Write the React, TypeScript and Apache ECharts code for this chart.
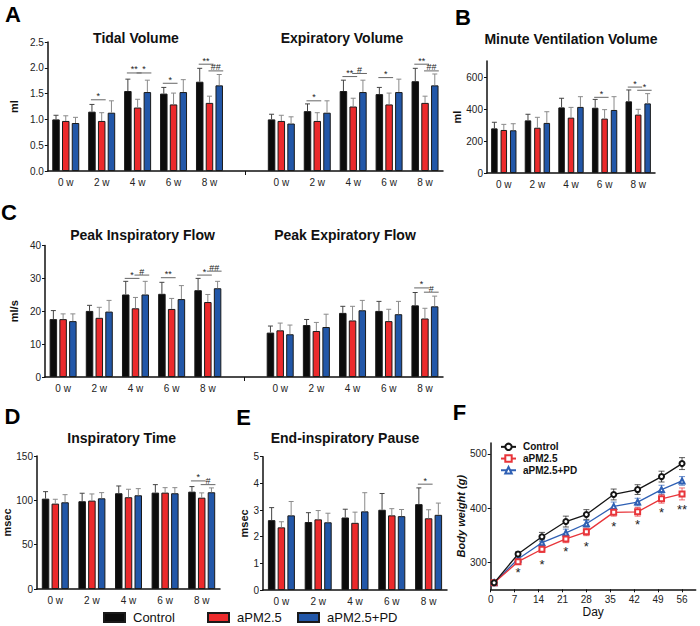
import { useEffect, useRef } from 'react';
import * as echarts from 'echarts';

const FONT = 'Liberation Sans, Arial, Helvetica, sans-serif';

const groupNames = ['Control', 'aPM2.5', 'aPM2.5+PD'];
const weekLabels = ['0 w', '2 w', '4 w', '6 w', '8 w'];

// A. Tidal volume (ml)
const tidalControl = [1.0, 1.15, 1.55, 1.5, 1.73];
const tidalControlSD = [0.08, 0.14, 0.23, 0.12, 0.26];
const tidalPM = [0.97, 0.97, 1.23, 1.29, 1.32];
const tidalPMSD = [0.1, 0.16, 0.16, 0.22, 0.13];
const tidalPD = [0.93, 1.13, 1.53, 1.53, 1.66];
const tidalPDSD = [0.11, 0.23, 0.23, 0.24, 0.21];
// A. Expiratory volume (ml)
const expControl = [1.0, 1.16, 1.55, 1.49, 1.74];
const expControlSD = [0.1, 0.14, 0.21, 0.13, 0.25];
const expPM = [0.97, 0.97, 1.25, 1.29, 1.32];
const expPMSD = [0.11, 0.16, 0.16, 0.22, 0.13];
const expPD = [0.92, 1.13, 1.53, 1.53, 1.66];
const expPDSD = [0.13, 0.23, 0.23, 0.25, 0.22];
// B. Minute ventilation volume (ml)
const mvControl = [279, 329, 410, 408, 448];
const mvControlSD = [38, 38, 57, 52, 71];
const mvPM = [269, 283, 346, 340, 365];
const mvPMSD = [35, 65, 64, 56, 33];
const mvPD = [267, 313, 413, 394, 435];
const mvPDSD = [41, 70, 64, 83, 61];
// C. Peak inspiratory flow (ml/s)
const pifControl = [17.6, 20.1, 25.1, 25.3, 26.4];
const pifControlSD = [2.6, 1.7, 4.0, 3.5, 3.6];
const pifPM = [17.6, 18.0, 20.9, 20.7, 22.8];
const pifPMSD = [1.6, 3.2, 3.3, 3.2, 2.3];
const pifPD = [17.0, 19.9, 25.1, 23.7, 27.0];
const pifPDSD = [2.2, 3.4, 4.0, 4.1, 2.1];
// C. Peak expiratory flow (ml/s)
const pefControl = [13.5, 15.8, 19.5, 20.1, 21.8];
const pefControlSD = [2.0, 1.7, 2.0, 2.9, 3.9];
const pefPM = [14.2, 14.0, 17.2, 17.0, 17.8];
const pefPMSD = [2.2, 2.6, 4.3, 3.6, 3.1];
const pefPD = [13.0, 15.2, 20.3, 19.1, 21.5];
const pefPDSD = [2.8, 3.9, 3.0, 3.9, 3.1];
// D. Inspiratory time (msec)
const itControl = [101.9, 99.0, 108.0, 108.7, 109.8];
const itControlSD = [7.9, 9.0, 8.2, 9.0, 5.7];
const itPM = [96.3, 99.7, 103.5, 108.7, 103.0];
const itPMSD = [4.9, 7.5, 9.0, 5.6, 5.4];
const itPD = [97.8, 102.3, 105.7, 108.0, 109.1];
const itPDSD = [8.6, 6.4, 7.5, 6.3, 4.9];
// E. End-inspiratory pause (msec)
const eipControl = [2.62, 2.55, 2.72, 3.01, 3.22];
const eipControlSD = [0.47, 0.35, 0.31, 0.61, 0.61];
const eipPM = [2.35, 2.65, 2.52, 2.8, 2.69];
const eipPMSD = [0.21, 0.33, 0.4, 0.25, 0.32];
const eipPD = [2.8, 2.54, 2.95, 2.77, 2.82];
const eipPDSD = [0.52, 0.34, 0.7, 0.25, 0.44];

// Significance marks: [week index, bracket value, from group, to group, text]
const tidalSig: any[] = [[1, 1.38, 0, 1, '*'], [2, 1.9, 0, 1, '**'], [2, 1.9, 1, 2, '*'], [3, 1.7, 0, 1, '*'], [4, 2.07, 0, 1, '**'], [4, 1.94, 1, 2, '##']];
const expSig: any[] = [[1, 1.36, 0, 1, '*'], [2, 1.83, 0, 1, '**'], [2, 1.89, 1, 2, '#'], [3, 1.81, 0, 1, '*'], [4, 2.07, 0, 1, '**'], [4, 1.94, 1, 2, '##']];
const mvSig: any[] = [[3, 473, 0, 1, '*'], [4, 537, 0, 1, '*'], [4, 517, 1, 2, '*']];
const pifSig: any[] = [[2, 30.0, 0, 1, '*'], [2, 31.0, 1, 2, '#'], [3, 30.2, 0, 1, '**'], [4, 31.0, 0, 1, '*'], [4, 32.2, 1, 2, '##']];
const pefSig: any[] = [[4, 27.1, 0, 1, '*'], [4, 25.8, 1, 2, '#']];
const itSig: any[] = [[4, 121.9, 0, 1, '*'], [4, 117.7, 1, 2, '#']];
const eipSig: any[] = [[4, 3.97, 0, 1, '*']];

// F. Body weight (g)
const bwDays = [1, 8, 15, 22, 28, 36, 43, 50, 56];
const bwControl = [262, 315, 347, 375, 388, 425, 434, 458, 482];
const bwControlSE = [3, 4, 8, 10, 9, 10, 9, 10, 11];
const bwPM = [262, 301, 324, 343, 356, 392, 393, 417, 426];
const bwPMSE = [3, 5, 6, 7, 7, 7, 8, 8, 11];
const bwPD = [262, 306, 336, 354, 371, 403, 411, 434, 450];
const bwPDSE = [3, 4, 6, 7, 6, 8, 7, 8, 8];
const bwSigDays = [8, 15, 22, 28, 36, 43, 50, 56];
const bwSigY = [281, 296, 320, 329, 365, 370, 391, 398];
const bwSigText = ['*', '*', '*', '*', '*', '*', '*', '**'];
const dayTicks = [0, 7, 14, 21, 28, 35, 42, 49, 56];

const barColors = ['#0c0c0c', '#ec2a2c', '#2257a8'];
const errColors = ['#444444', '#8a8a8a', '#8a8a8a'];
const lineColors = ['#151515', '#e8353a', '#2f60b4'];

const axisLineStyle = { color: '#111', width: 1.5 };

function joinGroups(a: number[], b?: number[]) {
  return b ? [...a, '-', ...b] : a;
}

function barSeries(gi: number, groups: any[][], barWidth: number, barGap: string) {
  return groups.map((data, g) => ({
    type: 'bar',
    name: groupNames[g],
    xAxisIndex: gi,
    yAxisIndex: gi,
    data,
    barWidth,
    barGap,
    silent: true,
    itemStyle: { color: barColors[g], borderColor: '#1a1a1a', borderWidth: 1 },
  }));
}

function errorSeries(gi: number, groups: any[][], sds: any[][], spacing: number) {
  const rows: number[][] = [];
  groups.forEach((arr, g) => {
    arr.forEach((v: any, i: number) => {
      if (typeof v === 'number') rows.push([i, v, v + sds[g][i], g]);
    });
  });
  return {
    type: 'custom',
    xAxisIndex: gi,
    yAxisIndex: gi,
    data: rows,
    encode: { x: 0, y: [1, 2] },
    silent: true,
    z: 3,
    renderItem: (_p: any, api: any) => {
      const cat = api.value(0);
      const g = api.value(3);
      const b = api.coord([cat, api.value(1)]);
      const t = api.coord([cat, api.value(2)]);
      const x = b[0] + (g - 1) * spacing;
      const st = { stroke: errColors[g], lineWidth: 1 };
      return {
        type: 'group',
        children: [
          { type: 'line', shape: { x1: x, y1: b[1], x2: x, y2: t[1] }, style: st },
          { type: 'line', shape: { x1: x - 2.5, y1: t[1], x2: x + 2.5, y2: t[1] }, style: st },
        ],
      };
    },
  };
}

function sigSeries(gi: number, sigs: any[], spacing: number) {
  return {
    type: 'custom',
    xAxisIndex: gi,
    yAxisIndex: gi,
    data: sigs.map((s) => [s[0], s[1]]),
    silent: true,
    z: 4,
    renderItem: (p: any, api: any) => {
      const s = sigs[p.dataIndex];
      const c = api.coord([api.value(0), api.value(1)]);
      const xa = c[0] + (s[2] - 1) * spacing - 1;
      const xb = c[0] + (s[3] - 1) * spacing + 4;
      return {
        type: 'group',
        children: [
          { type: 'line', shape: { x1: xa, y1: c[1], x2: xb, y2: c[1] }, style: { stroke: '#666', lineWidth: 1 } },
          {
            type: 'text',
            x: (xa + xb) / 2,
            y: c[1] + 1,
            style: { text: s[4], align: 'center', verticalAlign: 'bottom', fontSize: 9, fill: '#222', fontFamily: FONT },
          },
        ],
      };
    },
  };
}

function catAxis(gi: number, data: string[], breakTick: boolean) {
  return {
    type: 'category',
    gridIndex: gi,
    data,
    axisLine: { lineStyle: axisLineStyle },
    axisTick: breakTick
      ? { show: true, alignWithLabel: true, interval: (i: number) => i === 5, length: 4, lineStyle: { color: '#111', width: 1 } }
      : { show: false },
    axisLabel: { interval: 0, fontSize: 10, color: '#222', margin: 6, fontFamily: FONT },
  };
}

function valAxis(gi: number, min: number, max: number, interval: number, name: string, nameGap: number, extra: any = {}) {
  return {
    type: 'value',
    gridIndex: gi,
    min,
    max,
    interval,
    name,
    nameLocation: 'middle',
    nameGap,
    nameTextStyle: { fontSize: 11, fontWeight: 'bold', color: '#111', fontFamily: FONT },
    splitLine: { show: false },
    axisLine: { show: true, lineStyle: axisLineStyle },
    axisTick: { show: true, length: 3, lineStyle: { color: '#111', width: 1 } },
    axisLabel: { fontSize: 10, color: '#222', margin: 4, fontFamily: FONT },
    ...extra,
  };
}

function App() {
  const ref = useRef<HTMLDivElement>(null);
  useEffect(() => {
    if (!ref.current) return;
    const chart = echarts.init(ref.current, null, { renderer: 'svg' });

    const aGroups = [joinGroups(tidalControl, expControl), joinGroups(tidalPM, expPM), joinGroups(tidalPD, expPD)];
    const aSD = [joinGroups(tidalControlSD, expControlSD), joinGroups(tidalPMSD, expPMSD), joinGroups(tidalPDSD, expPDSD)];
    const aSig = [...tidalSig, ...expSig.map((s) => [s[0] + 6, ...s.slice(1)])];
    const bGroups = [mvControl, mvPM, mvPD];
    const bSD = [mvControlSD, mvPMSD, mvPDSD];
    const cGroups = [joinGroups(pifControl, pefControl), joinGroups(pifPM, pefPM), joinGroups(pifPD, pefPD)];
    const cSD = [joinGroups(pifControlSD, pefControlSD), joinGroups(pifPMSD, pefPMSD), joinGroups(pifPDSD, pefPDSD)];
    const cSig = [...pifSig, ...pefSig.map((s) => [s[0] + 6, ...s.slice(1)])];
    const dGroups = [itControl, itPM, itPD];
    const dSD = [itControlSD, itPMSD, itPDSD];
    const eGroups = [eipControl, eipPM, eipPD];
    const eSD = [eipControlSD, eipPMSD, eipPDSD];

    const longCats = [...weekLabels, '', ...weekLabels];
    const bw = 7.5;
    const sp = bw * 1.3;
    const bwB = 6.5;
    const spB = bwB * 1.45;

    const bwGroups = [bwControl, bwPM, bwPD];
    const bwSE = [bwControlSE, bwPMSE, bwPDSE];
    const lineSymbols = ['emptyCircle', 'emptyRect', 'emptyTriangle'];

    const fLines = bwGroups.map((vals, g) => ({
      type: 'line',
      name: 'F:' + groupNames[g],
      xAxisIndex: 5,
      yAxisIndex: 5,
      data: vals.map((v, i) => [bwDays[i], v]),
      symbol: lineSymbols[g],
      symbolSize: 5,
      lineStyle: { color: lineColors[g], width: 1.3 },
      itemStyle: { color: lineColors[g], borderWidth: 1 },
      z: 5 - g,
      silent: true,
    }));

    const fErrRows: number[][] = [];
    bwGroups.forEach((vals, g) => vals.forEach((v, i) => fErrRows.push([bwDays[i], v - bwSE[g][i], v + bwSE[g][i], g])));
    const fErr = {
      type: 'custom',
      xAxisIndex: 5,
      yAxisIndex: 5,
      data: fErrRows,
      encode: { x: 0, y: [1, 2] },
      silent: true,
      z: 2,
      renderItem: (_p: any, api: any) => {
        const lo = api.coord([api.value(0), api.value(1)]);
        const hi = api.coord([api.value(0), api.value(2)]);
        const g = api.value(3);
        const st = { stroke: lineColors[g], lineWidth: 1, opacity: 0.7 };
        const x = lo[0];
        return {
          type: 'group',
          children: [
            { type: 'line', shape: { x1: x, y1: lo[1], x2: x, y2: hi[1] }, style: st },
            { type: 'line', shape: { x1: x - 3, y1: lo[1], x2: x + 3, y2: lo[1] }, style: st },
            { type: 'line', shape: { x1: x - 3, y1: hi[1], x2: x + 3, y2: hi[1] }, style: st },
          ],
        };
      },
    };
    const fSig = {
      type: 'custom',
      xAxisIndex: 5,
      yAxisIndex: 5,
      data: bwSigDays.map((d, i) => [d, bwSigY[i]]),
      silent: true,
      renderItem: (p: any, api: any) => {
        const c = api.coord([api.value(0), api.value(1)]);
        return {
          type: 'text',
          x: c[0],
          y: c[1],
          style: { text: bwSigText[p.dataIndex], align: 'center', verticalAlign: 'middle', fontSize: 13, fill: '#222', fontFamily: FONT },
        };
      },
    };

    const letter = (t: string, x: number, y: number) => ({
      type: 'text', x, y,
      style: { text: t, align: 'center', verticalAlign: 'middle', fontSize: 22, fontWeight: 'bold', fill: '#000', fontFamily: FONT },
    });
    const title = (t: string, x: number, y: number) => ({
      type: 'text', x, y,
      style: { text: t, align: 'center', verticalAlign: 'middle', fontSize: 14, fontWeight: 'bold', fill: '#111', fontFamily: FONT },
    });

    const barLegend = (name: string, left: number) => ({
      data: [name],
      left,
      top: 611,
      padding: 0,
      icon: 'rect',
      itemWidth: 21,
      itemHeight: 9,
      selectedMode: false,
      textStyle: { fontSize: 13, color: '#111', fontFamily: FONT, padding: [0, 0, 0, 3] },
    });

    const option: any = {
      animation: false,
      backgroundColor: '#fff',
      textStyle: { fontFamily: FONT },
      grid: [
        { left: 37, top: 42, width: 406, height: 129 },
        { left: 487, top: 61, width: 168, height: 112 },
        { left: 37, top: 245.5, width: 406, height: 131.5 },
        { left: 37, top: 456, width: 183, height: 133 },
        { left: 263, top: 456.7, width: 184, height: 133.3 },
        { left: 490.7, top: 443, width: 205, height: 146.3 },
      ],
      xAxis: [
        catAxis(0, longCats, true),
        catAxis(1, weekLabels, false),
        catAxis(2, longCats, true),
        catAxis(3, weekLabels, false),
        catAxis(4, weekLabels, false),
        {
          type: 'value',
          gridIndex: 5,
          min: 0,
          max: 60,
          name: 'Day',
          nameLocation: 'middle',
          nameGap: 17,
          nameTextStyle: { fontSize: 12, color: '#111', fontFamily: FONT },
          splitLine: { show: false },
          axisLine: { lineStyle: axisLineStyle },
          axisTick: { show: true, length: 3, customValues: dayTicks, lineStyle: { color: '#111' } },
          axisLabel: { fontSize: 10, color: '#222', margin: 5, customValues: dayTicks, fontFamily: FONT },
        },
      ],
      yAxis: [
        valAxis(0, 0, 2.5, 0.5, 'ml', 21, {
          axisLabel: { fontSize: 10, color: '#222', margin: 4, fontFamily: FONT, formatter: (v: number) => v.toFixed(1) },
        }),
        valAxis(1, 0, 700, 100, 'ml', 20, {
          interval: undefined,
          axisTick: { show: true, length: 3, customValues: [0, 200, 400, 600], lineStyle: { color: '#111' } },
          axisLabel: { fontSize: 10, color: '#222', margin: 4, fontFamily: FONT, customValues: [0, 200, 400, 600] },
        }),
        valAxis(2, 0, 40, 10, 'ml/s', 21),
        valAxis(3, 0, 150, 50, 'msec', 21),
        valAxis(4, 0, 5, 1, 'msec', 10),
        {
          type: 'value',
          gridIndex: 5,
          min: 250,
          max: 520,
          name: 'Body weight (g)',
          nameLocation: 'middle',
          nameGap: 21,
          nameTextStyle: { fontSize: 11, fontWeight: 'bold', fontStyle: 'italic', color: '#111', fontFamily: FONT },
          splitLine: { show: false },
          axisLine: { show: true, lineStyle: axisLineStyle },
          axisTick: { show: true, length: 3, customValues: [300, 400, 500], lineStyle: { color: '#111' } },
          axisLabel: { fontSize: 10, color: '#222', margin: 4, customValues: [300, 400, 500], fontFamily: FONT },
        },
      ],
      legend: [
        barLegend('Control', 103),
        barLegend('aPM2.5', 207),
        barLegend('aPM2.5+PD', 297),
        {
          data: fLines.map((s) => s.name),
          orient: 'vertical',
          left: 500,
          top: 441,
          padding: 0,
          itemWidth: 15,
          itemHeight: 8,
          itemGap: 0,
          selectedMode: false,
          formatter: (n: string) => n.slice(2),
          textStyle: { fontSize: 10, fontWeight: 'bold', color: '#111', fontFamily: FONT, lineHeight: 11.7, padding: [0, 0, 0, 2] },
        },
      ],
      graphic: [
        letter('A', 13, 14),
        letter('B', 463, 17.5),
        letter('C', 9, 212),
        letter('D', 12.5, 416.5),
        letter('E', 243.5, 417),
        letter('F', 459.5, 412.5),
        title('Tidal Volume', 136, 38),
        title('Expiratory Volume', 342, 38),
        title('Minute Ventilation Volume', 571, 39),
        title('Peak Inspiratory Flow', 142.5, 235),
        title('Peak Expiratory Flow', 345, 234.5),
        title('Inspiratory Time', 121.7, 438),
        title('End-inspiratory Pause', 345, 438),
      ],
      series: [
        ...barSeries(0, aGroups, bw, '30%'),
        errorSeries(0, aGroups, aSD, sp),
        sigSeries(0, aSig, sp),
        ...barSeries(1, bGroups, bwB, '45%'),
        errorSeries(1, bGroups, bSD, spB),
        sigSeries(1, mvSig, spB),
        ...barSeries(2, cGroups, bw, '30%'),
        errorSeries(2, cGroups, cSD, sp),
        sigSeries(2, cSig, sp),
        ...barSeries(3, dGroups, bw, '30%'),
        errorSeries(3, dGroups, dSD, sp),
        sigSeries(3, itSig, sp),
        ...barSeries(4, eGroups, bw, '30%'),
        errorSeries(4, eGroups, eSD, sp),
        sigSeries(4, eipSig, sp),
        ...fLines,
        fErr,
        fSig,
      ],
    };
    chart.setOption(option);
    return () => chart.dispose();
  }, []);
  return <div ref={ref} style={{ position: 'absolute', left: 0, top: 0, width: 700, height: 626 }} />;
}

export default App;
